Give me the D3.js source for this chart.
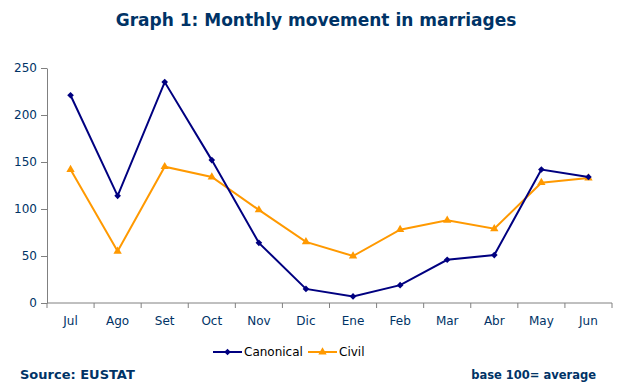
<!DOCTYPE html>
<html>
<head>
<meta charset="utf-8">
<script src="https://cdn.jsdelivr.net/npm/d3@7"></script>
<style>
  body { margin: 0; background: #fff; }
  text { font-family: "DejaVu Sans", Verdana, sans-serif; }
</style>
</head>
<body>
<div id="container"></div>
<script>
// monthly index, base 100 = average
var months = ["Jul", "Ago", "Set", "Oct", "Nov", "Dic", "Ene", "Feb", "Mar", "Abr", "May", "Jun"];
var canonical = [221, 114, 235, 152, 64, 15, 7, 19, 46, 51, 142, 134];
var civil = [142, 55, 145, 134, 99, 65, 50, 78, 88, 79, 128, 133];
var yTicks = [0, 50, 100, 150, 200, 250];

var W = 642, H = 391;
var margin = {top: 68, right: 30, bottom: 88, left: 47};
var width = W - margin.left - margin.right,
    height = H - margin.top - margin.bottom;

var navy = "#003366";

var svg = d3.select("#container")
  .append("svg")
  .attr("width", W)
  .attr("height", H);

svg.append("text")
  .attr("x", 316)
  .attr("y", 26)
  .attr("text-anchor", "middle")
  .attr("font-size", 17)
  .attr("font-weight", "bold")
  .attr("fill", navy)
  .text("Graph 1: Monthly movement in marriages");

var g = svg.append("g")
  .attr("transform", "translate(" + margin.left + "," + margin.top + ")");

var x = d3.scaleBand()
  .domain(months)
  .range([0, width]);

var y = d3.scaleLinear()
  .domain([0, 250])
  .range([height, 0]);

// y axis
var yAxis = g.append("g")
  .call(d3.axisLeft(y).tickValues(yTicks).tickSize(6).tickSizeOuter(0));
yAxis.select(".domain").attr("stroke", "#808080");
yAxis.selectAll(".tick line").attr("stroke", "#808080");
yAxis.selectAll(".tick text")
  .attr("fill", navy)
  .attr("font-size", 12)
  .attr("x", -10);

// x axis, ticks on band boundaries
var xAxis = g.append("g")
  .attr("transform", "translate(0," + height + ")");
xAxis.append("line")
  .attr("x1", 0).attr("x2", width)
  .attr("stroke", "#808080");
xAxis.selectAll("line.tk")
  .data(d3.range(months.length + 1))
  .enter().append("line")
  .attr("class", "tk")
  .attr("x1", function(i) { return i * x.step(); })
  .attr("x2", function(i) { return i * x.step(); })
  .attr("y1", 0).attr("y2", 5)
  .attr("stroke", "#808080");
xAxis.selectAll("text")
  .data(months)
  .enter().append("text")
  .attr("x", function(d) { return x(d) + x.bandwidth() / 2; })
  .attr("y", 22)
  .attr("text-anchor", "middle")
  .attr("font-size", 12)
  .attr("fill", navy)
  .text(function(d) { return d; });

var series = [
  {name: "Canonical", values: canonical, color: "#000080", shape: d3.symbolSquare, size: 22, rot: 45},
  {name: "Civil", values: civil, color: "#FF9900", shape: d3.symbolTriangle, size: 30, rot: 0}
];

var line = d3.line()
  .x(function(d, i) { return x(months[i]) + x.bandwidth() / 2; })
  .y(function(d) { return y(d); });

// draw civil first so canonical sits on top where they cross
series.slice().reverse().forEach(function(s) {
  g.append("path")
    .datum(s.values)
    .attr("fill", "none")
    .attr("stroke", s.color)
    .attr("stroke-width", 2)
    .attr("d", line);

  g.selectAll(null)
    .data(s.values)
    .enter().append("path")
    .attr("transform", function(d, i) {
      return "translate(" + (x(months[i]) + x.bandwidth() / 2) + "," + y(d) + ") rotate(" + s.rot + ")";
    })
    .attr("d", d3.symbol().type(s.shape).size(s.size))
    .attr("fill", s.color);
});

// legend
var legend = svg.append("g")
  .attr("transform", "translate(213,352)");
var lx = 0;
series.forEach(function(s) {
  var item = legend.append("g").attr("transform", "translate(" + lx + ",0)");
  item.append("line")
    .attr("x1", 0).attr("x2", 29)
    .attr("stroke", s.color)
    .attr("stroke-width", 2);
  item.append("path")
    .attr("transform", "translate(14.5,0) rotate(" + s.rot + ")")
    .attr("d", d3.symbol().type(s.shape).size(s.size))
    .attr("fill", s.color);
  item.append("text")
    .attr("x", 31)
    .attr("y", 4)
    .attr("font-size", 12)
    .attr("fill", "#000")
    .text(s.name);
  lx += 95;
});

svg.append("text")
  .attr("x", 20)
  .attr("y", 379)
  .attr("font-family", "'Liberation Sans', Arial, sans-serif")
  .attr("font-size", 13)
  .attr("font-weight", "bold")
  .attr("fill", navy)
  .text("Source: EUSTAT");

svg.append("text")
  .attr("x", 596)
  .attr("y", 379)
  .attr("text-anchor", "end")
  .attr("font-family", "'Liberation Sans', Arial, sans-serif")
  .attr("font-size", 11.5)
  .attr("font-weight", "bold")
  .attr("fill", navy)
  .text("base 100= average");
</script>
</body>
</html>
